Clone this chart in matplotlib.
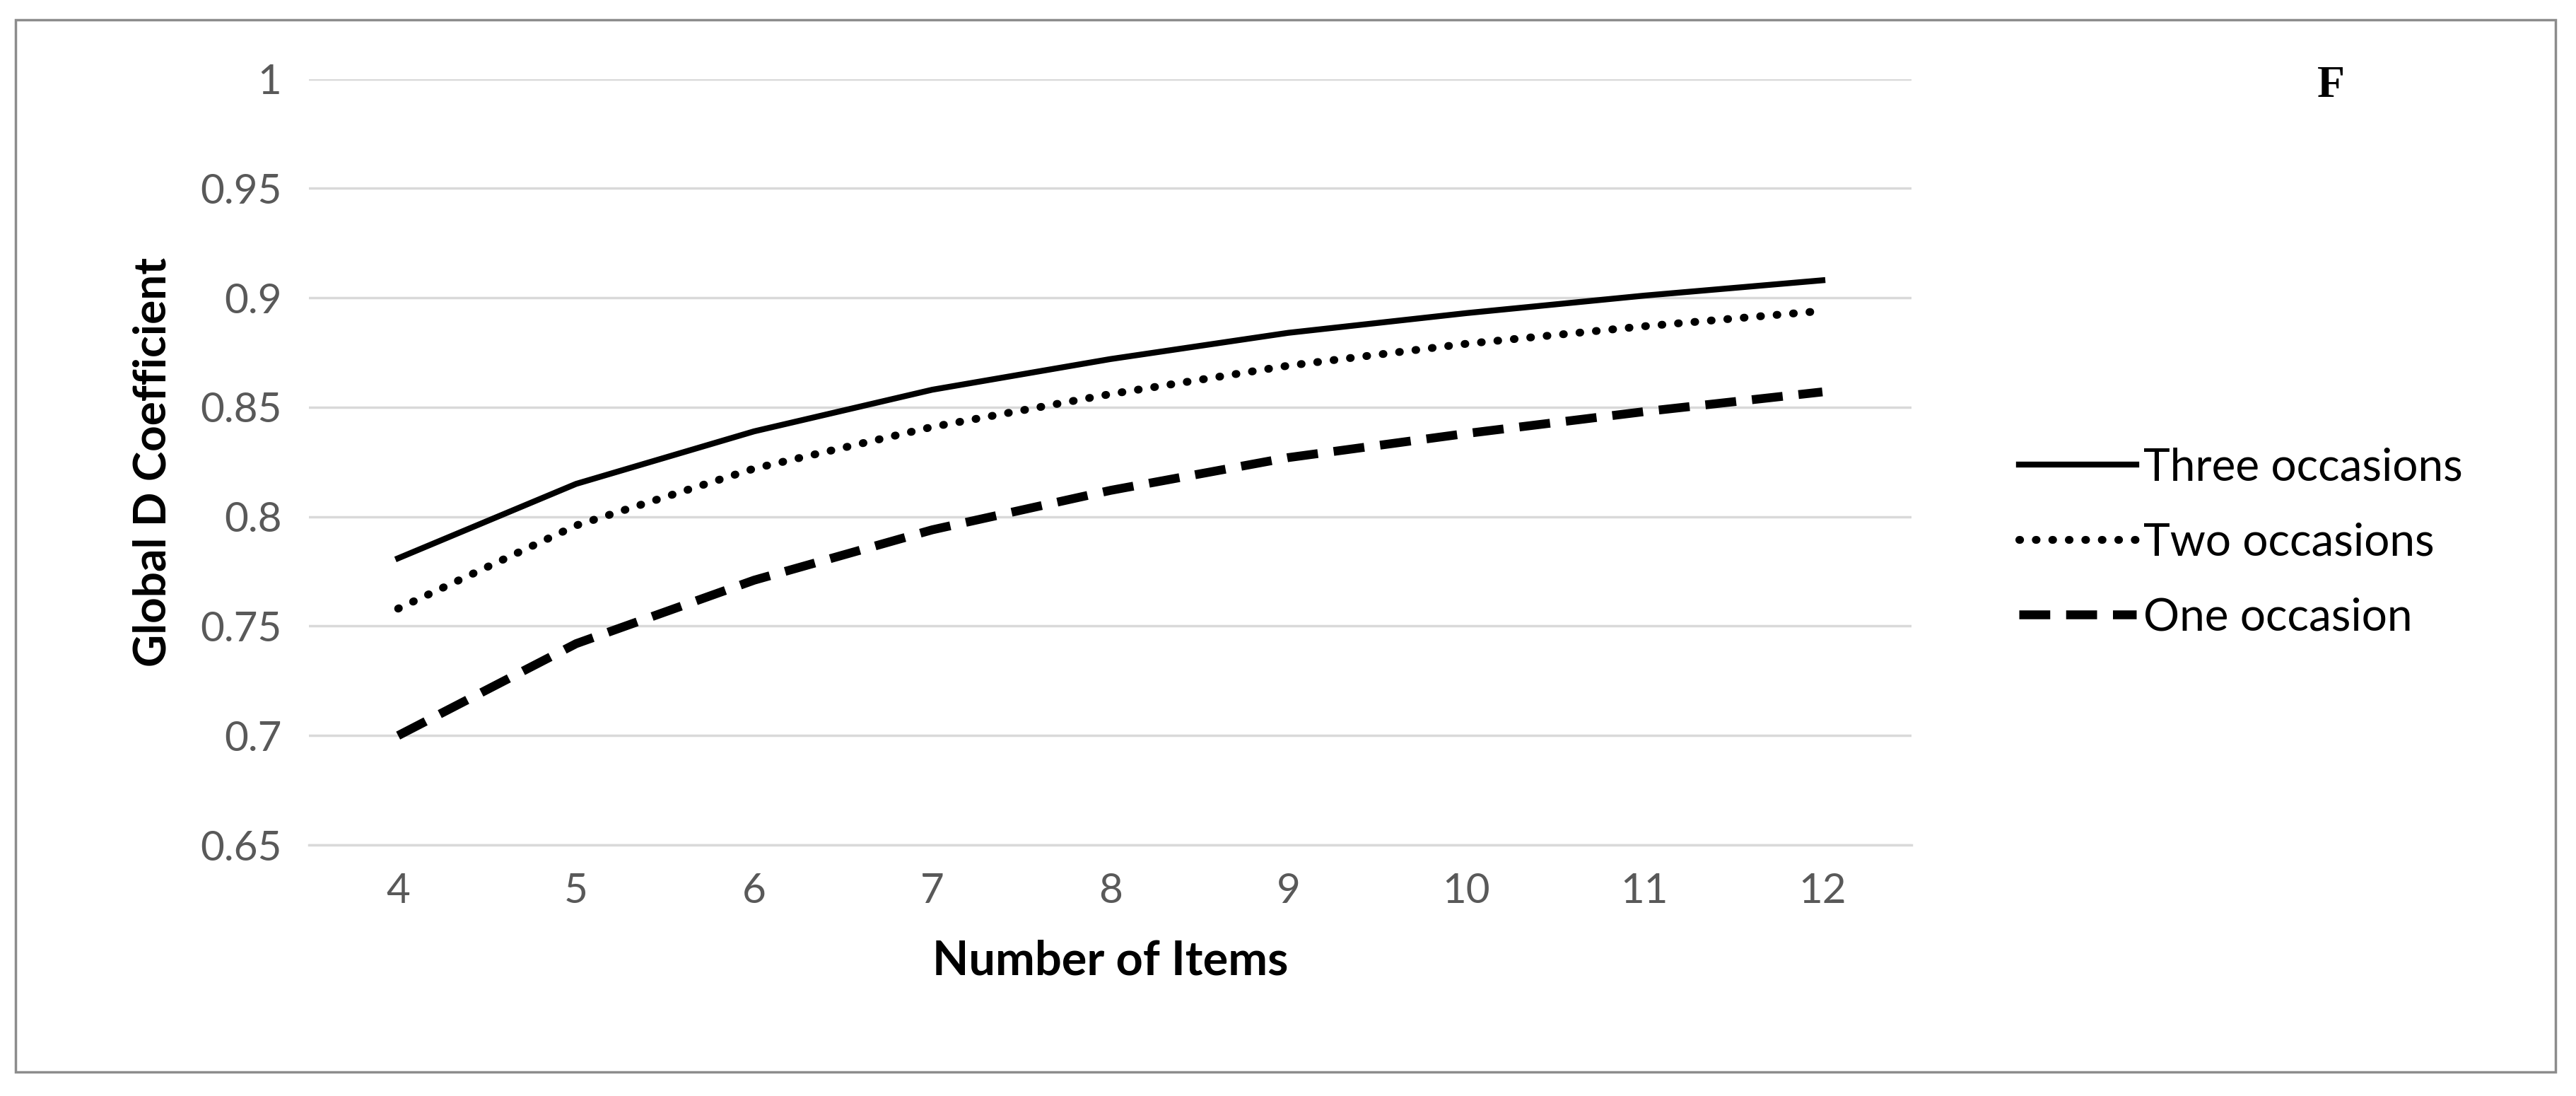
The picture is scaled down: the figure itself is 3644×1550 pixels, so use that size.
import matplotlib
matplotlib.use("Agg")
import matplotlib.pyplot as plt
from matplotlib.patches import Rectangle

items = [4, 5, 6, 7, 8, 9, 10, 11, 12]
three_occ = [0.781, 0.815, 0.839, 0.858, 0.872, 0.884, 0.893, 0.901, 0.908]
two_occ = [0.758, 0.796, 0.822, 0.841, 0.856, 0.869, 0.879, 0.887, 0.894]
one_occ = [0.700, 0.742, 0.771, 0.794, 0.812, 0.827, 0.838, 0.848, 0.857]
yticks = [0.65, 0.7, 0.75, 0.8, 0.85, 0.9, 0.95, 1]
ytick_labels = ["0.65", "0.7", "0.75", "0.8", "0.85", "0.9", "0.95", "1"]

plt.rcParams['font.family'] = ['Lato', 'DejaVu Sans']

fig = plt.figure(figsize=(36.44, 15.5), dpi=100)
ax = fig.add_axes([0.12, 0.229, 0.622, 0.699])

ax.plot(items, three_occ, color='black', lw=6, label='Three occasions')
ax.plot(items, two_occ, color='black', lw=8, linestyle=(0, (0.1, 2.0)),
        dash_capstyle='round', label='Two occasions')
ax.plot(items, one_occ, color='black', lw=9, linestyle=(0, (3.5, 1.8)), label='One occasion')

ax.set_xlim(3.5, 12.5)
ax.set_ylim(0.65, 1.0)
ax.set_xticks(items)
ax.set_yticks(yticks)
ax.set_yticklabels(ytick_labels)
ax.tick_params(axis='both', length=0, labelsize=42, colors='#595959', pad=28)
ax.grid(axis='y', color='#d9d9d9', lw=2.5)
ax.set_axisbelow(True)
for s in ['top', 'right', 'left']:
    ax.spines[s].set_visible(False)
ax.spines['bottom'].set_color('#d9d9d9')
ax.spines['bottom'].set_linewidth(2.5)

ax.set_xlabel('Number of Items', fontsize=48, fontweight='bold', labelpad=30)
ax.set_ylabel('Global D Coefficient', fontsize=46, fontweight='bold', labelpad=28)

fig.legend(loc='center left', bbox_to_anchor=(0.768, 0.505), frameon=False,
           fontsize=46, handlelength=2.6, labelspacing=0.75, handletextpad=0.15)

fig.text(0.905, 0.94, 'F', fontsize=46, fontweight='bold', family='Liberation Serif',
         va='top', ha='center')

fig.patches.append(Rectangle((0.006, 0.022), 0.986, 0.96, transform=fig.transFigure,
                             fill=False, edgecolor='#8c8c8c', lw=2.5))

fig.savefig('out.png', dpi=100)
